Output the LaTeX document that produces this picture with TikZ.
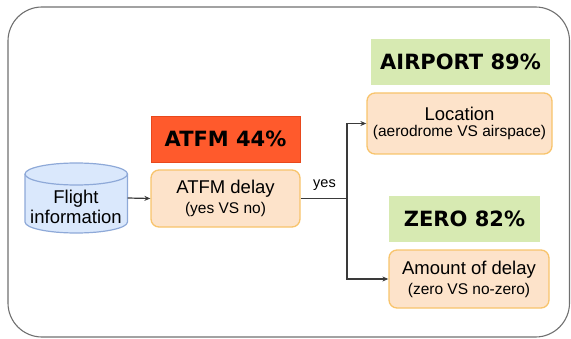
\documentclass[tikz,border=0pt]{standalone}
\usepackage{fontspec}
\setmainfont{Liberation Sans}
\newfontfamily\lblfont{DejaVu Sans}
\usetikzlibrary{arrows.meta}
\definecolor{ofill}{HTML}{FDE3CA}
\definecolor{odraw}{HTML}{F8C46C}
\definecolor{gfill}{HTML}{D7EAB2}
\definecolor{rfill}{HTML}{FF5A2C}
\definecolor{rdraw}{HTML}{E8481C}
\definecolor{cfill}{HTML}{DAE8FC}
\definecolor{cdraw}{HTML}{8EA9D8}
\definecolor{frame}{HTML}{707070}
\definecolor{lin}{HTML}{3A3A3A}
\newcommand{\twoline}[2]{\fontsize{18.5}{20}\selectfont #1\\[4pt]\fontsize{15.5}{16}\selectfont #2}
\begin{document}
\begin{tikzpicture}[x=1pt,y=1pt,
  obox/.style={draw=odraw,fill=ofill,line width=1.3pt,rounded corners=8pt,align=center,inner sep=0pt},
  lbl/.style={inner sep=0pt,font=\lblfont\bfseries\fontsize{21}{24}\selectfont},
  main/.style={font=\fontsize{18.5}{20}\selectfont},
  conn/.style={draw=lin,line width=1.2pt},
  arr/.style={conn,-{Stealth[length=6pt,width=5pt]}}
]
\useasboundingbox (0,0) rectangle (571,338);
% outer frame
\draw[frame,line width=1.1pt,rounded corners=34pt] (8,331) rectangle (569.5,1);

% cylinder
\node[minimum width=102.5pt,minimum height=70pt,inner sep=0pt] (cyl) at (76.25,140) {};
\draw[cdraw,fill=cfill,line width=1.2pt]
  (25,164) -- (25,116) arc[start angle=180,end angle=360,x radius=51.25pt,y radius=11pt]
  -- (127.5,164) arc[start angle=0,end angle=180,x radius=51.25pt,y radius=11pt] -- cycle;
\draw[cdraw,line width=1.2pt] (25,164) arc[start angle=180,end angle=360,x radius=51.25pt,y radius=11pt];
\node[main,align=center,inner sep=0pt] (cyltext) at (76,131) {Flight\\information};

% label boxes
\node[lbl,fill=rfill,draw=rdraw,line width=0.8pt,minimum width=149pt,minimum height=46pt] (atfmlbl) at (225.5,199) {ATFM 44\%};
\node[lbl,fill=gfill,minimum width=179pt,minimum height=46pt] (airlbl) at (460.5,276) {AIRPORT 89\%};
\node[lbl,fill=gfill,minimum width=151pt,minimum height=46pt] (zerolbl) at (464.5,119) {ZERO 82\%};

% process boxes
\node[obox,minimum width=149pt,minimum height=57pt] (atfm) at (225.5,139.5)
  {\twoline{ATFM delay}{(yes VS no)}};
\node[obox,minimum width=185pt,minimum height=61pt] (loc) at (459.5,214.5)
  {\twoline{Location}{(aerodrome VS airspace)}};
\node[obox,minimum width=160pt,minimum height=58pt] (amt) at (469,59)
  {\twoline{Amount of delay}{(zero VS no-zero)}};

% connectors
\coordinate (j) at (347,139.5);
\draw[arr] (cyl.east) -- (atfm.west);
\draw[conn] (atfm.east) -- (j);
\draw[arr] (j) |- (loc.west);
\draw[arr] (j) |- (amt.west);
\node[inner sep=0pt,font=\fontsize{14.5}{16}\selectfont] (yes) at (324.5,153) {yes};
\end{tikzpicture}
\end{document}
